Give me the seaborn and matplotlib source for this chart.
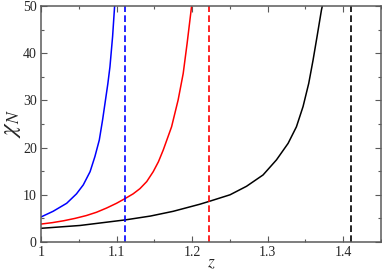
import matplotlib
matplotlib.use("Agg")
import matplotlib.pyplot as plt
import matplotlib.ticker as mticker
import numpy as np
import pandas as pd
import seaborn as sns

# ---- data ----
blue_z = [1.000, 1.016, 1.034, 1.047, 1.056, 1.065, 1.0714, 1.0772, 1.0816, 1.0855, 1.0885, 1.0913, 1.0948, 1.0975]
blue_y = [5.3, 6.5, 8.2, 10.2, 12.1, 14.9, 18.1, 21.6, 25.9, 30.2, 33.5, 37.1, 43.5, 50.0]

red_z = [1.000, 1.015, 1.030, 1.045, 1.060, 1.0735, 1.0869, 1.100, 1.1124, 1.122, 1.131, 1.140, 1.1486, 1.1555, 1.1619, 1.1729, 1.1816, 1.1883, 1.1935, 1.1993]
red_y = [3.8, 4.1, 4.5, 5.0, 5.6, 6.3, 7.2, 8.2, 9.3, 10.2, 11.3, 12.8, 14.9, 17.0, 19.5, 24.4, 30.1, 35.7, 42.1, 49.8]

black_z = [1.000, 1.0516, 1.1124, 1.145, 1.175, 1.2103, 1.2226, 1.2503, 1.2721, 1.294, 1.3118, 1.3272, 1.3382, 1.347, 1.3545, 1.3602, 1.3655, 1.3713, 1.3725]
black_y = [2.9, 3.5, 4.7, 5.5, 6.5, 8.0, 8.6, 10.0, 11.8, 14.2, 17.4, 20.9, 24.4, 28.7, 33.6, 38.5, 43.5, 49.1, 50.0]

pole_z = [1.1115, 1.2222, 1.4105]
series_colors = ["#0000ff", "#ff0000", "#000000"]

x_ticks = [1.0, 1.1, 1.2, 1.3, 1.4]
x_ticklabels = ["1", "1.1", "1.2", "1.3", "1.4"]
y_ticks = [0, 10, 20, 30, 40, 50]
y_ticklabels = ["0", "10", "20", "30", "40", "50"]

# ---- build table ----
frames = []
for name, zs, ys in [("blue", blue_z, blue_y), ("red", red_z, red_y), ("black", black_z, black_y)]:
    frames.append(pd.DataFrame({"z": zs, "chi": ys, "series": name}))
df = pd.concat(frames, ignore_index=True)

sns.set_style("ticks")
plt.rcParams["font.family"] = ["Liberation Serif", "DejaVu Serif"]
plt.rcParams["mathtext.fontset"] = "stix"

fig = plt.figure(figsize=(3.82, 2.71), dpi=100)
ax = fig.add_axes([0.1073, 0.107, 0.8897, 0.871])

sns.lineplot(data=df, x="z", y="chi", hue="series",
             palette=dict(zip(["blue", "red", "black"], series_colors)),
             linewidth=1.1, legend=False, ax=ax, sort=True, estimator=None)

for zc, col in zip(pole_z, series_colors):
    ax.axvline(zc, color=col, linewidth=1.2, linestyle=(0, (4, 2)))

ax.set_xlim(1.0, 1.45)
ax.set_ylim(0, 50)
ax.set_xticks(x_ticks)
ax.set_xticklabels(x_ticklabels)
ax.set_yticks(y_ticks)
ax.set_yticklabels(y_ticklabels)
ax.xaxis.set_minor_locator(mticker.MultipleLocator(0.05))
ax.yaxis.set_minor_locator(mticker.MultipleLocator(5))

frame_col = "#5a5a5a"
for sp in ax.spines.values():
    sp.set_color(frame_col)
    sp.set_linewidth(1.1)
ax.tick_params(which="both", direction="in", top=True, right=True,
               color=frame_col, labelsize=10, pad=3)
ax.tick_params(which="major", length=4.3, width=0.8)
ax.tick_params(which="minor", length=2.3, width=0.8)

ax.set_xlabel(r"$z$", fontsize=12.5, labelpad=-3)
ax.set_ylabel(r"$\chi_N$", fontsize=18, labelpad=0)

fig.savefig("out.png", dpi=100)
